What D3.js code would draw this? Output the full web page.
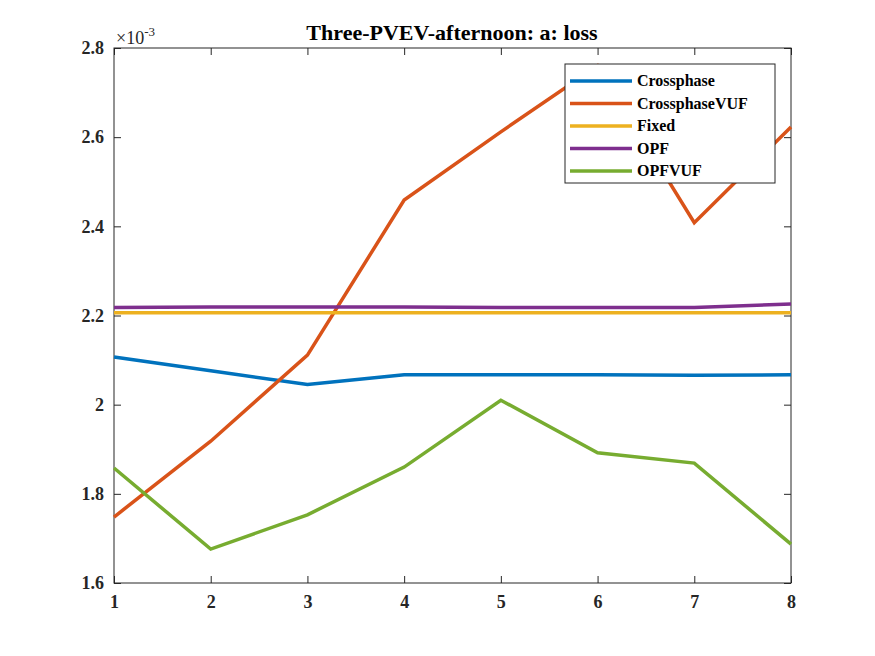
<!DOCTYPE html><html><head><script src="https://cdn.jsdelivr.net/npm/d3@7"></script>
<style>body{margin:0;background:#fff}text{font-family:"Liberation Serif",serif;font-weight:bold}</style></head><body>
<script>
const xVals=[1,2,3,4,5,6,7,8];
const crossphase=[2.107,2.076,2.045,2.067,2.067,2.067,2.066,2.067];
const crossphaseVUF=[1.748,1.918,2.111,2.459,2.612,2.760,2.408,2.623];
const fixed=[2.206,2.206,2.206,2.206,2.206,2.206,2.206,2.206];
const opf=[2.218,2.219,2.219,2.219,2.218,2.218,2.218,2.226];
const opfvuf=[1.858,1.676,1.753,1.860,2.010,1.892,1.869,1.687];
const names=["Crossphase","CrossphaseVUF","Fixed","OPF","OPFVUF"];
const colors=["#0072BD","#D95319","#EDB120","#7E2F8E","#77AC30"];
const series=[crossphase,crossphaseVUF,fixed,opf,opfvuf];
const yTicks=[1.6,1.8,2,2.2,2.4,2.6,2.8];
const svg=d3.select("body").append("svg").attr("width",875).attr("height",656);
const L=114,R=791,T=48,B=583;
const x=d3.scaleLinear().domain([1,8]).range([L,R]);
const y=d3.scaleLinear().domain([1.6,2.8]).range([B,T]);
svg.append("rect").attr("x",L).attr("y",T).attr("width",R-L).attr("height",B-T).attr("fill","#fff").attr("stroke","#262626");
const xa=svg.append("g").attr("transform",`translate(0,${B})`).call(d3.axisBottom(x).tickValues(xVals).tickSize(-7).tickPadding(12).tickFormat(d3.format("d")));
const ya=svg.append("g").attr("transform",`translate(${L},0)`).call(d3.axisLeft(y).tickValues(yTicks).tickSize(-7).tickPadding(10).tickFormat(d=>d3.format("")(+d.toFixed(1))));
const xt=svg.append("g").attr("transform",`translate(0,${T})`).call(d3.axisTop(x).tickValues(xVals).tickSize(-7).tickFormat(""));
const yr=svg.append("g").attr("transform",`translate(${R},0)`).call(d3.axisRight(y).tickValues(yTicks).tickSize(-7).tickFormat(""));
[xa,ya,xt,yr].forEach(g=>{g.select(".domain").remove();g.selectAll("line").attr("stroke","#262626");g.selectAll("text").attr("font-size",18).attr("fill","#262626").style("font-family","Liberation Serif").style("font-weight","bold");});
const line=d3.line().x((d,i)=>x(xVals[i])).y(d=>y(d));
series.forEach((s,i)=>svg.append("path").attr("d",line(s)).attr("fill","none").attr("stroke",colors[i]).attr("stroke-width",3.5));
const e=svg.append("text").attr("x",116).attr("y",44).attr("font-size",18).attr("fill","#262626").style("font-weight","normal");
e.append("tspan").text("×10");e.append("tspan").attr("dy",-8).attr("font-size",13).text("-3");
svg.append("text").attr("x",452).attr("y",40).attr("text-anchor","middle").attr("font-size",22).attr("fill","#000").text("Three-PVEV-afternoon: a: loss");
const lg=svg.append("g");
lg.append("rect").attr("x",565).attr("y",64).attr("width",210).attr("height",119).attr("fill","#fff").attr("stroke","#262626");
names.forEach((n,i)=>{const yy=81+i*22.5;
lg.append("line").attr("x1",570).attr("x2",632).attr("y1",yy).attr("y2",yy).attr("stroke",colors[i]).attr("stroke-width",3.5);
lg.append("text").attr("x",637).attr("y",yy+5).attr("font-size",16).attr("fill","#000").text(n);});
</script></body></html>
